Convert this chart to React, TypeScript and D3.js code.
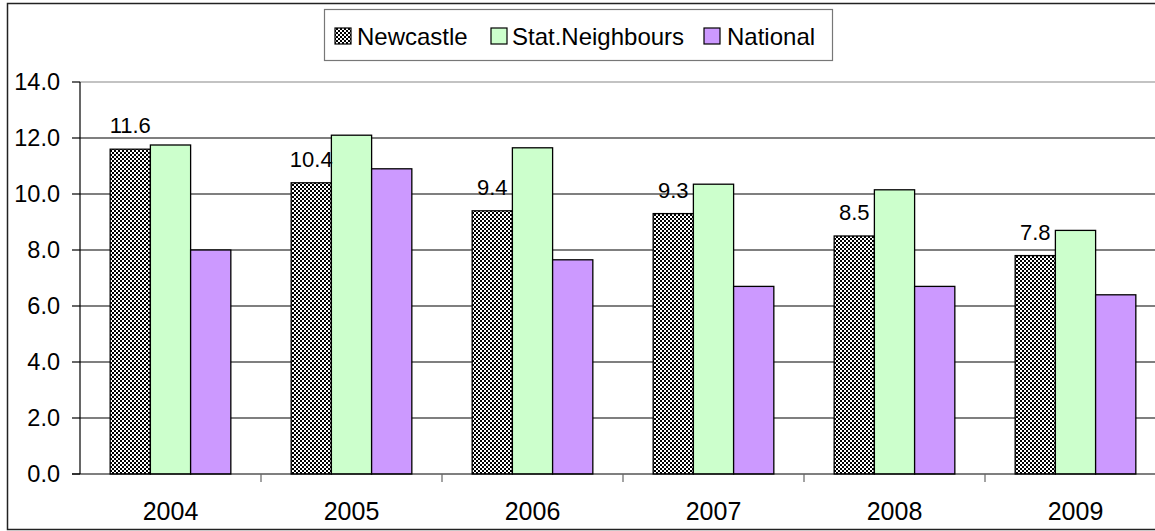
import React from "react";
import * as d3 from "d3";

const years = ["2004", "2005", "2006", "2007", "2008", "2009"];
const seriesNames = ["Newcastle", "Stat.Neighbours", "National"];
const newcastle = [11.6, 10.4, 9.4, 9.3, 8.5, 7.8];
const statNeighbours = [11.75, 12.1, 11.65, 10.35, 10.15, 8.7];
const national = [8.0, 10.9, 7.65, 6.7, 6.7, 6.4];
const yTicks = [0, 2, 4, 6, 8, 10, 12, 14];

const W = 1155;
const H = 531;
const plot = { left: 80, top: 82, bottom: 474, right: 80 + 6 * 181 };
const font = "'Liberation Sans', Arial, sans-serif";

const fills = ["url(#checker)", "#CCFFCC", "#CC99FF"];

export default function App() {
  const values = [newcastle, statNeighbours, national];

  const x0 = d3
    .scaleBand<string>()
    .domain(years)
    .range([plot.left, plot.right])
    .paddingInner(1 / 3)
    .paddingOuter(1 / 6);
  const x1 = d3
    .scaleBand<string>()
    .domain(seriesNames)
    .range([0, x0.bandwidth()]);
  const y = d3.scaleLinear().domain([0, 14]).range([plot.bottom, plot.top]);
  const step = x0.step();

  return (
    <svg
      width={W}
      height={H}
      style={{ position: "absolute", left: 0, top: 0, background: "#fff" }}
      fontFamily={font}
    >
      <defs>
        <pattern id="checker" width={4} height={4} patternUnits="userSpaceOnUse">
          <rect width={4} height={4} fill="#fff" />
          <rect width={2} height={2} fill="#000" />
          <rect x={2} y={2} width={2} height={2} fill="#000" />
        </pattern>
      </defs>

      {/* chart area border */}
      <rect x={7.5} y={3.5} width={W + 10} height={526} fill="none" stroke="#222" strokeWidth={1.5} />

      {/* gridlines */}
      {yTicks.slice(1).map((t) => (
        <line
          key={t}
          x1={plot.left}
          x2={W}
          y1={y(t)}
          y2={y(t)}
          stroke={t === 14 ? "#888" : "#000"}
          strokeWidth={1.2}
        />
      ))}

      {/* bars */}
      {years.map((yr, i) => (
        <g key={yr}>
          {seriesNames.map((s, j) => (
            <rect
              key={s}
              x={(x0(yr) as number) + (x1(s) as number)}
              y={y(values[j][i])}
              width={x1.bandwidth()}
              height={y(0) - y(values[j][i])}
              fill={fills[j]}
              stroke="#000"
              strokeWidth={1.3}
            />
          ))}
        </g>
      ))}

      {/* value axis */}
      <line x1={plot.left} x2={plot.left} y1={plot.top} y2={plot.bottom} stroke="#000" strokeWidth={1.2} />
      {yTicks.map((t) => (
        <g key={t}>
          <line x1={plot.left - 8} x2={plot.left} y1={y(t)} y2={y(t)} stroke="#000" strokeWidth={1.2} />
          <text x={60} y={y(t)} dy="0.36em" textAnchor="end" fontSize={23.5} fill="#000">
            {t.toFixed(1)}
          </text>
        </g>
      ))}

      {/* category axis */}
      <line x1={plot.left - 8} x2={W} y1={plot.bottom} y2={plot.bottom} stroke="#000" strokeWidth={1.2} />
      {years.map((yr, i) => (
        <line
          key={yr}
          x1={plot.left + step * (i + 1)}
          x2={plot.left + step * (i + 1)}
          y1={plot.bottom}
          y2={plot.bottom + 8}
          stroke="#666"
          strokeWidth={1.2}
        />
      ))}
      {years.map((yr) => (
        <text
          key={yr}
          x={(x0(yr) as number) + x0.bandwidth() / 2}
          y={520}
          textAnchor="middle"
          fontSize={25}
          fill="#000"
        >
          {yr}
        </text>
      ))}

      {/* Newcastle value labels */}
      {years.map((yr, i) => (
        <text
          key={yr}
          x={(x0(yr) as number) + (x1("Newcastle") as number) + x1.bandwidth() / 2}
          y={y(newcastle[i]) - 16}
          textAnchor="middle"
          fontSize={22}
          fill="#000"
        >
          {newcastle[i].toFixed(1)}
        </text>
      ))}

      {/* legend */}
      <rect x={324.5} y={9.5} width={508} height={51} fill="#fff" stroke="#777" strokeWidth={1.2} />
      {[
        { name: seriesNames[0], mx: 335, tx: 357 },
        { name: seriesNames[1], mx: 491, tx: 512 },
        { name: seriesNames[2], mx: 704, tx: 727 },
      ].map((d, j) => (
        <g key={d.name}>
          <rect
            x={d.mx}
            y={28}
            width={16}
            height={16}
            fill={fills[j]}
            stroke="#000"
            strokeWidth={1.2}
          />
          <text x={d.tx} y={36} dy="0.36em" fontSize={24} fill="#000">
            {d.name}
          </text>
        </g>
      ))}
    </svg>
  );
}
